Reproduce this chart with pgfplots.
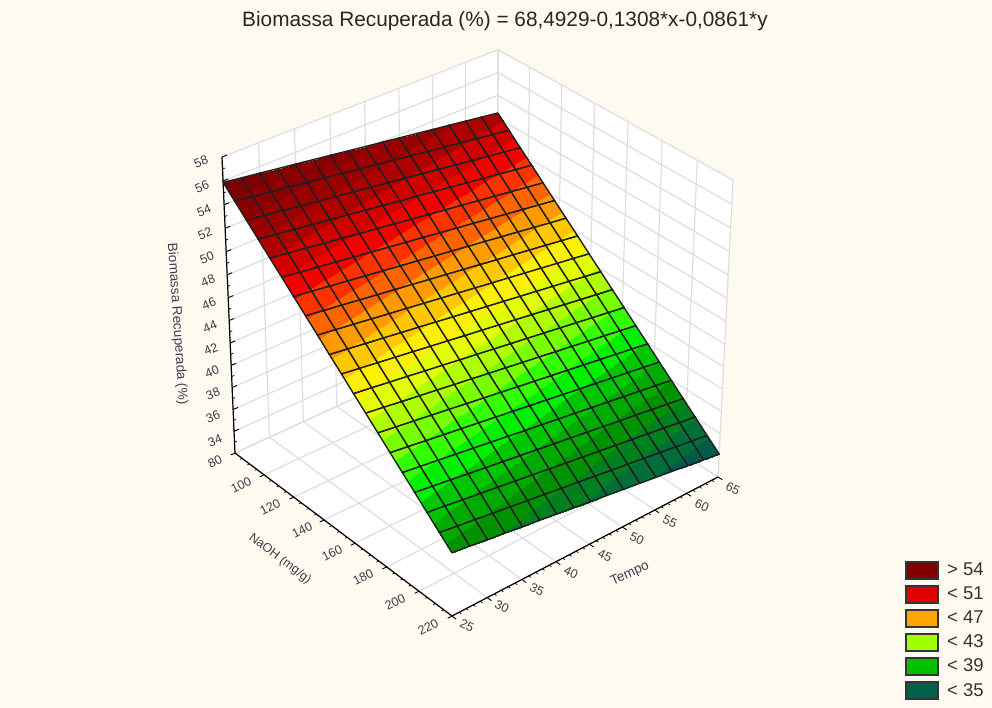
\documentclass[border=0pt]{standalone}
\usepackage{fontspec}
\setmainfont{Liberation Sans}
\usepackage{pgfplots}
\pgfplotsset{compat=1.18}

\definecolor{bgcol}{RGB}{254,250,240}
\definecolor{gridcol}{RGB}{222,222,222}
\definecolor{labcol}{RGB}{60,60,75}
\definecolor{l54}{RGB}{128,0,0}
\definecolor{l51}{RGB}{224,0,0}
\definecolor{l47}{RGB}{255,165,0}
\definecolor{l43}{RGB}{160,255,0}
\definecolor{l39}{RGB}{0,192,0}
\definecolor{l35}{RGB}{0,96,72}

% perspective of the original box, fitted to its corners
\pgfplotsset{
  /pgfplots/table/proj/.style={
    x expr={projx(\thisrow{n},\thisrow{t},\thisrow{b})},
    y expr={projy(\thisrow{n},\thisrow{t},\thisrow{b})},
    row sep=\\,
  },
}

\begin{document}
\begin{tikzpicture}
\begin{axis}[
    width=992pt, height=708pt, scale only axis,
    xmin=0, xmax=992, ymin=0, ymax=708, y dir=reverse,
    ticks=none, axis line style={draw=none},
    axis background/.style={fill=bgcol},
    clip=false,
    declare function={
      projd(\N,\T,\B)=1-0.072*(\N-80)/140+0.0645*(\T-25)/40-0.0546*(\B-32)/26;
      projx(\N,\T,\B)=(184.46*(\N-80)/140+293.16*(\T-25)/40-25.12*(\B-32)/26+235)/projd(\N,\T,\B);
      projy(\N,\T,\B)=(118.65*(\N-80)/140-98.22*(\T-25)/40-304.57*(\B-32)/26+453)/projd(\N,\T,\B);
    },
    % one colour per unit of biomass, from 33 upwards
    colormap={biomassa}{
      rgb255(0cm)=(0,80,80);
      rgb255(1cm)=(0,92,72);
      rgb255(2cm)=(0,110,56);
      rgb255(3cm)=(0,128,30);
      rgb255(4cm)=(0,146,0);
      rgb255(5cm)=(0,170,0);
      rgb255(6cm)=(0,198,0);
      rgb255(7cm)=(0,240,0);
      rgb255(8cm)=(50,255,0);
      rgb255(9cm)=(120,255,0);
      rgb255(10cm)=(175,255,0);
      rgb255(11cm)=(225,255,0);
      rgb255(12cm)=(255,240,0);
      rgb255(13cm)=(255,200,0);
      rgb255(14cm)=(255,155,0);
      rgb255(15cm)=(255,100,0);
      rgb255(16cm)=(255,50,0);
      rgb255(17cm)=(245,0,0);
      rgb255(18cm)=(210,0,0);
      rgb255(19cm)=(175,0,0);
      rgb255(20cm)=(155,0,0);
      rgb255(21cm)=(138,0,0);
      rgb255(22cm)=(125,0,0);
      rgb255(23cm)=(125,0,0);
    },
    colormap access=piecewise constant,
    point meta min=33, point meta max=56,
  ]

% walls and floor
\addplot[fill=white,draw=none] table[proj]{n t b\\ 80 25 32\\ 220 25 32\\ 220 65 32\\ 80 65 32\\};
\addplot[fill=white,draw=none] table[proj]{n t b\\ 80 25 32\\ 80 65 32\\ 80 65 58\\ 80 25 58\\};
\addplot[fill=white,draw=none] table[proj]{n t b\\ 80 65 32\\ 220 65 32\\ 220 65 58\\ 80 65 58\\};

% grid
\pgfplotsinvokeforeach{80,100,120,140,160,180,200,220}{
  \addplot[gridcol,line width=1.2pt] table[proj]{n t b\\ #1 25 32\\ #1 65 32\\ #1 65 58\\};
}
\pgfplotsinvokeforeach{25,30,35,40,45,50,55,60,65}{
  \addplot[gridcol,line width=1.2pt] table[proj]{n t b\\ 220 #1 32\\ 80 #1 32\\ 80 #1 58\\};
}
\pgfplotsinvokeforeach{32,34,36,38,40,42,44,46,48,50,52,54,56,58}{
  \addplot[gridcol,line width=1.2pt] table[proj]{n t b\\ 80 25 #1\\ 80 65 #1\\ 220 65 #1\\};
}

% axes and ticks
\addplot[black,line width=1.2pt] table[proj]{n t b\\ 80 25 58\\ 80 25 32\\ 220 25 32\\ 220 65 32\\};
\pgfplotsinvokeforeach{80,100,120,140,160,180,200,220}{
  \addplot[black,line width=0.9pt] table[proj]{n t b\\ #1 25 32\\ #1 24.4 32\\};
}
\pgfplotsinvokeforeach{85,90,95,105,110,115,125,130,135,145,150,155,165,170,175,185,190,195,205,210,215}{
  \addplot[black,line width=0.7pt] table[proj]{n t b\\ #1 25 32\\ #1 24.7 32\\};
}
\pgfplotsinvokeforeach{25,30,35,40,45,50,55,60,65}{
  \addplot[black,line width=0.9pt] table[proj]{n t b\\ 220 #1 32\\ 222.5 #1 32\\};
}
\pgfplotsinvokeforeach{26,27,28,29,31,32,33,34,36,37,38,39,41,42,43,44,46,47,48,49,51,52,53,54,56,57,58,59,61,62,63,64}{
  \addplot[black,line width=0.7pt] table[proj]{n t b\\ 220 #1 32\\ 221.3 #1 32\\};
}
\pgfplotsinvokeforeach{34,36,38,40,42,44,46,48,50,52,54,56,58}{
  \addplot[black,line width=0.9pt] table[proj]{n t b\\ 80 25 #1\\ 80 25.7 #1\\};
}
\pgfplotsinvokeforeach{33,35,37,39,41,43,45,47,49,51,53,55,57}{
  \addplot[black,line width=0.7pt] table[proj]{n t b\\ 80 25 #1\\ 80 25.35 #1\\};
}

% fitted surface
\addplot[surf, shader=faceted interp, faceted color=black!88, line width=1.4pt,
    mesh/rows=20, mesh/cols=17, point meta=\thisrow{b}]
  table[proj]{
  n t b\\
  80 25 55.88\\ 80 27.5 55.66\\ 80 30 55.45\\ 80 32.5 55.23\\ 80 35 55.02\\ 80 37.5 54.80\\ 80 40 54.59\\ 80 42.5 54.37\\ 80 45 54.15\\ 80 47.5 53.94\\ 80 50 53.72\\ 80 52.5 53.51\\ 80 55 53.29\\ 80 57.5 53.08\\ 80 60 52.86\\ 80 62.5 52.65\\ 80 65 52.43\\
  87.37 25 54.91\\ 87.37 27.5 54.70\\ 87.37 30 54.48\\ 87.37 32.5 54.27\\ 87.37 35 54.05\\ 87.37 37.5 53.84\\ 87.37 40 53.62\\ 87.37 42.5 53.41\\ 87.37 45 53.19\\ 87.37 47.5 52.98\\ 87.37 50 52.76\\ 87.37 52.5 52.54\\ 87.37 55 52.33\\ 87.37 57.5 52.11\\ 87.37 60 51.90\\ 87.37 62.5 51.68\\ 87.37 65 51.47\\
  94.74 25 53.95\\ 94.74 27.5 53.73\\ 94.74 30 53.52\\ 94.74 32.5 53.30\\ 94.74 35 53.09\\ 94.74 37.5 52.87\\ 94.74 40 52.66\\ 94.74 42.5 52.44\\ 94.74 45 52.23\\ 94.74 47.5 52.01\\ 94.74 50 51.80\\ 94.74 52.5 51.58\\ 94.74 55 51.37\\ 94.74 57.5 51.15\\ 94.74 60 50.94\\ 94.74 62.5 50.72\\ 94.74 65 50.51\\
  102.11 25 52.98\\ 102.11 27.5 52.77\\ 102.11 30 52.55\\ 102.11 32.5 52.34\\ 102.11 35 52.12\\ 102.11 37.5 51.91\\ 102.11 40 51.69\\ 102.11 42.5 51.48\\ 102.11 45 51.26\\ 102.11 47.5 51.05\\ 102.11 50 50.83\\ 102.11 52.5 50.62\\ 102.11 55 50.40\\ 102.11 57.5 50.19\\ 102.11 60 49.97\\ 102.11 62.5 49.76\\ 102.11 65 49.54\\
  109.47 25 52.02\\ 109.47 27.5 51.81\\ 109.47 30 51.59\\ 109.47 32.5 51.37\\ 109.47 35 51.16\\ 109.47 37.5 50.94\\ 109.47 40 50.73\\ 109.47 42.5 50.51\\ 109.47 45 50.30\\ 109.47 47.5 50.08\\ 109.47 50 49.87\\ 109.47 52.5 49.65\\ 109.47 55 49.44\\ 109.47 57.5 49.22\\ 109.47 60 49.01\\ 109.47 62.5 48.79\\ 109.47 65 48.58\\
  116.84 25 51.06\\ 116.84 27.5 50.84\\ 116.84 30 50.63\\ 116.84 32.5 50.41\\ 116.84 35 50.20\\ 116.84 37.5 49.98\\ 116.84 40 49.77\\ 116.84 42.5 49.55\\ 116.84 45 49.34\\ 116.84 47.5 49.12\\ 116.84 50 48.90\\ 116.84 52.5 48.69\\ 116.84 55 48.47\\ 116.84 57.5 48.26\\ 116.84 60 48.04\\ 116.84 62.5 47.83\\ 116.84 65 47.61\\
  124.21 25 50.09\\ 124.21 27.5 49.88\\ 124.21 30 49.66\\ 124.21 32.5 49.45\\ 124.21 35 49.23\\ 124.21 37.5 49.02\\ 124.21 40 48.80\\ 124.21 42.5 48.59\\ 124.21 45 48.37\\ 124.21 47.5 48.16\\ 124.21 50 47.94\\ 124.21 52.5 47.73\\ 124.21 55 47.51\\ 124.21 57.5 47.30\\ 124.21 60 47.08\\ 124.21 62.5 46.86\\ 124.21 65 46.65\\
  131.58 25 49.13\\ 131.58 27.5 48.91\\ 131.58 30 48.70\\ 131.58 32.5 48.48\\ 131.58 35 48.27\\ 131.58 37.5 48.05\\ 131.58 40 47.84\\ 131.58 42.5 47.62\\ 131.58 45 47.41\\ 131.58 47.5 47.19\\ 131.58 50 46.98\\ 131.58 52.5 46.76\\ 131.58 55 46.55\\ 131.58 57.5 46.33\\ 131.58 60 46.12\\ 131.58 62.5 45.90\\ 131.58 65 45.69\\
  138.95 25 48.17\\ 138.95 27.5 47.95\\ 138.95 30 47.74\\ 138.95 32.5 47.52\\ 138.95 35 47.30\\ 138.95 37.5 47.09\\ 138.95 40 46.87\\ 138.95 42.5 46.66\\ 138.95 45 46.44\\ 138.95 47.5 46.23\\ 138.95 50 46.01\\ 138.95 52.5 45.80\\ 138.95 55 45.58\\ 138.95 57.5 45.37\\ 138.95 60 45.15\\ 138.95 62.5 44.94\\ 138.95 65 44.72\\
  146.32 25 47.20\\ 146.32 27.5 46.99\\ 146.32 30 46.77\\ 146.32 32.5 46.56\\ 146.32 35 46.34\\ 146.32 37.5 46.13\\ 146.32 40 45.91\\ 146.32 42.5 45.69\\ 146.32 45 45.48\\ 146.32 47.5 45.26\\ 146.32 50 45.05\\ 146.32 52.5 44.83\\ 146.32 55 44.62\\ 146.32 57.5 44.40\\ 146.32 60 44.19\\ 146.32 62.5 43.97\\ 146.32 65 43.76\\
  153.68 25 46.24\\ 153.68 27.5 46.02\\ 153.68 30 45.81\\ 153.68 32.5 45.59\\ 153.68 35 45.38\\ 153.68 37.5 45.16\\ 153.68 40 44.95\\ 153.68 42.5 44.73\\ 153.68 45 44.52\\ 153.68 47.5 44.30\\ 153.68 50 44.09\\ 153.68 52.5 43.87\\ 153.68 55 43.66\\ 153.68 57.5 43.44\\ 153.68 60 43.22\\ 153.68 62.5 43.01\\ 153.68 65 42.79\\
  161.05 25 45.27\\ 161.05 27.5 45.06\\ 161.05 30 44.84\\ 161.05 32.5 44.63\\ 161.05 35 44.41\\ 161.05 37.5 44.20\\ 161.05 40 43.98\\ 161.05 42.5 43.77\\ 161.05 45 43.55\\ 161.05 47.5 43.34\\ 161.05 50 43.12\\ 161.05 52.5 42.91\\ 161.05 55 42.69\\ 161.05 57.5 42.48\\ 161.05 60 42.26\\ 161.05 62.5 42.05\\ 161.05 65 41.83\\
  168.42 25 44.31\\ 168.42 27.5 44.10\\ 168.42 30 43.88\\ 168.42 32.5 43.66\\ 168.42 35 43.45\\ 168.42 37.5 43.23\\ 168.42 40 43.02\\ 168.42 42.5 42.80\\ 168.42 45 42.59\\ 168.42 47.5 42.37\\ 168.42 50 42.16\\ 168.42 52.5 41.94\\ 168.42 55 41.73\\ 168.42 57.5 41.51\\ 168.42 60 41.30\\ 168.42 62.5 41.08\\ 168.42 65 40.87\\
  175.79 25 43.35\\ 175.79 27.5 43.13\\ 175.79 30 42.92\\ 175.79 32.5 42.70\\ 175.79 35 42.49\\ 175.79 37.5 42.27\\ 175.79 40 42.05\\ 175.79 42.5 41.84\\ 175.79 45 41.62\\ 175.79 47.5 41.41\\ 175.79 50 41.19\\ 175.79 52.5 40.98\\ 175.79 55 40.76\\ 175.79 57.5 40.55\\ 175.79 60 40.33\\ 175.79 62.5 40.12\\ 175.79 65 39.90\\
  183.16 25 42.38\\ 183.16 27.5 42.17\\ 183.16 30 41.95\\ 183.16 32.5 41.74\\ 183.16 35 41.52\\ 183.16 37.5 41.31\\ 183.16 40 41.09\\ 183.16 42.5 40.88\\ 183.16 45 40.66\\ 183.16 47.5 40.45\\ 183.16 50 40.23\\ 183.16 52.5 40.01\\ 183.16 55 39.80\\ 183.16 57.5 39.58\\ 183.16 60 39.37\\ 183.16 62.5 39.15\\ 183.16 65 38.94\\
  190.53 25 41.42\\ 190.53 27.5 41.20\\ 190.53 30 40.99\\ 190.53 32.5 40.77\\ 190.53 35 40.56\\ 190.53 37.5 40.34\\ 190.53 40 40.13\\ 190.53 42.5 39.91\\ 190.53 45 39.70\\ 190.53 47.5 39.48\\ 190.53 50 39.27\\ 190.53 52.5 39.05\\ 190.53 55 38.84\\ 190.53 57.5 38.62\\ 190.53 60 38.41\\ 190.53 62.5 38.19\\ 190.53 65 37.97\\
  197.89 25 40.46\\ 197.89 27.5 40.24\\ 197.89 30 40.03\\ 197.89 32.5 39.81\\ 197.89 35 39.59\\ 197.89 37.5 39.38\\ 197.89 40 39.16\\ 197.89 42.5 38.95\\ 197.89 45 38.73\\ 197.89 47.5 38.52\\ 197.89 50 38.30\\ 197.89 52.5 38.09\\ 197.89 55 37.87\\ 197.89 57.5 37.66\\ 197.89 60 37.44\\ 197.89 62.5 37.23\\ 197.89 65 37.01\\
  205.26 25 39.49\\ 205.26 27.5 39.28\\ 205.26 30 39.06\\ 205.26 32.5 38.85\\ 205.26 35 38.63\\ 205.26 37.5 38.42\\ 205.26 40 38.20\\ 205.26 42.5 37.98\\ 205.26 45 37.77\\ 205.26 47.5 37.55\\ 205.26 50 37.34\\ 205.26 52.5 37.12\\ 205.26 55 36.91\\ 205.26 57.5 36.69\\ 205.26 60 36.48\\ 205.26 62.5 36.26\\ 205.26 65 36.05\\
  212.63 25 38.53\\ 212.63 27.5 38.31\\ 212.63 30 38.10\\ 212.63 32.5 37.88\\ 212.63 35 37.67\\ 212.63 37.5 37.45\\ 212.63 40 37.24\\ 212.63 42.5 37.02\\ 212.63 45 36.81\\ 212.63 47.5 36.59\\ 212.63 50 36.37\\ 212.63 52.5 36.16\\ 212.63 55 35.94\\ 212.63 57.5 35.73\\ 212.63 60 35.51\\ 212.63 62.5 35.30\\ 212.63 65 35.08\\
  220 25 37.56\\ 220 27.5 37.35\\ 220 30 37.13\\ 220 32.5 36.92\\ 220 35 36.70\\ 220 37.5 36.49\\ 220 40 36.27\\ 220 42.5 36.06\\ 220 45 35.84\\ 220 47.5 35.63\\ 220 50 35.41\\ 220 52.5 35.20\\ 220 55 34.98\\ 220 57.5 34.77\\ 220 60 34.55\\ 220 62.5 34.34\\ 220 65 34.12\\
};

% title
\node[font=\fontsize{20.8}{22}\selectfont,text=black!85] at (axis cs:505,21) {Biomassa Recuperada (\%) = 68,4929-0,1308*x-0,0861*y};

% tick labels
\begin{scope}[every node/.style={font=\fontsize{12.5}{13}\selectfont,text=labcol,inner sep=0pt}]
\node[rotate=22] at (axis cs:201,162) {58};
\node[rotate=22] at (axis cs:202,187) {56};
\node[rotate=22] at (axis cs:204,211) {54};
\node[rotate=22] at (axis cs:205,234) {52};
\node[rotate=22] at (axis cs:207,258) {50};
\node[rotate=22] at (axis cs:208,281) {48};
\node[rotate=22] at (axis cs:209,304) {46};
\node[rotate=22] at (axis cs:210,327) {44};
\node[rotate=22] at (axis cs:211,349) {42};
\node[rotate=22] at (axis cs:212,372) {40};
\node[rotate=22] at (axis cs:213,394) {38};
\node[rotate=22] at (axis cs:213,417) {36};
\node[rotate=22] at (axis cs:215,441) {34};
\node[rotate=26] at (axis cs:215,462) {80};
\node[rotate=26] at (axis cs:241,485) {100};
\node[rotate=26] at (axis cs:270,507) {120};
\node[rotate=26] at (axis cs:302,530) {140};
\node[rotate=26] at (axis cs:332,553) {160};
\node[rotate=26] at (axis cs:363,577) {180};
\node[rotate=26] at (axis cs:395,602) {200};
\node[rotate=26] at (axis cs:428,627) {220};
\node[rotate=-25] at (axis cs:467,626) {25};
\node[rotate=-25] at (axis cs:502,607) {30};
\node[rotate=-25] at (axis cs:537,590) {35};
\node[rotate=-25] at (axis cs:571,573) {40};
\node[rotate=-25] at (axis cs:605,556) {45};
\node[rotate=-25] at (axis cs:637,539) {50};
\node[rotate=-25] at (axis cs:670,522) {55};
\node[rotate=-25] at (axis cs:702,506) {60};
\node[rotate=-25] at (axis cs:733,489) {65};
\end{scope}
\begin{scope}[every node/.style={font=\fontsize{13.5}{14}\selectfont,text=labcol,inner sep=0pt}]
\node[rotate=24] at (axis cs:630,574) {Tempo};
\node[rotate=-37,font=\fontsize{12.5}{13}\selectfont] at (axis cs:280,559) {NaOH (mg/g)};
\node[rotate=-86] at (axis cs:177,324) {Biomassa Recuperada (\%)};
\end{scope}

% legend
\begin{scope}[every node/.style={font=\fontsize{18.5}{20}\selectfont,text=black!80,anchor=west,inner sep=0pt}]
\draw[fill=l54,draw=black!80,line width=1.3pt] (axis cs:906,562) rectangle (axis cs:938,579);
\node at (axis cs:947,569) {> 54};
\draw[fill=l51,draw=black!80,line width=1.3pt] (axis cs:906,586) rectangle (axis cs:938,603);
\node at (axis cs:947,593) {< 51};
\draw[fill=l47,draw=black!80,line width=1.3pt] (axis cs:906,610) rectangle (axis cs:938,627);
\node at (axis cs:947,617) {< 47};
\draw[fill=l43,draw=black!80,line width=1.3pt] (axis cs:906,634) rectangle (axis cs:938,651);
\node at (axis cs:947,641) {< 43};
\draw[fill=l39,draw=black!80,line width=1.3pt] (axis cs:906,658) rectangle (axis cs:938,675);
\node at (axis cs:947,665) {< 39};
\draw[fill=l35,draw=black!80,line width=1.3pt] (axis cs:906,682) rectangle (axis cs:938,699);
\node at (axis cs:947,690) {< 35};
\end{scope}
\end{axis}
\end{tikzpicture}
\end{document}
